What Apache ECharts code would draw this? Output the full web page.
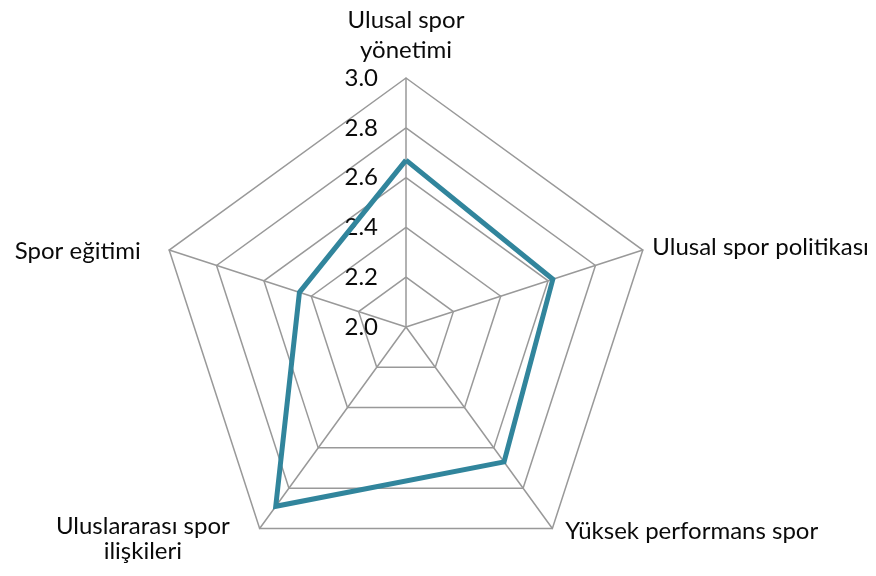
<!DOCTYPE html>
<html>
<head>
<meta charset="utf-8">
<script src="https://cdn.jsdelivr.net/npm/echarts@6/dist/echarts.min.js"></script>
<style>html,body{margin:0;padding:0;background:#fff;}#c{width:876px;height:576px;}</style>
</head>
<body>
<div id="c"></div>
<script>
// Indicators in ECharts' drawing order (counter-clockwise from the top)
const indicatorNames = ['Ulusal spor yönetimi', 'Spor eğitimi', 'Uluslararası spor ilişkileri', 'Yüksek performans spor', 'Ulusal spor politikası'];
const values = [2.67, 2.45, 2.89, 2.67, 2.62];
const axisMin = 2.0;
const axisMax = 3.0;
const tickStep = 0.2;

const nameText = {
  'Ulusal spor yönetimi': '{top|Ulusal spor}\n{top|yönetimi}',
  'Spor eğitimi': '{left|Spor eğitimi}',
  'Uluslararası spor ilişkileri': '{bl1|Uluslararası spor}\n{bl2|ilişkileri}',
  'Yüksek performans spor': '{br|Yüksek performans spor}',
  'Ulusal spor politikası': '{right|Ulusal spor politikası}'
};

const FONT = 'Lato';
const NAME_SIZE = 24;
const base = { fontFamily: FONT, fontSize: NAME_SIZE, color: '#0a0a0a', lineHeight: 30, align: 'center' };

const chart = echarts.init(document.getElementById('c'), null, { renderer: 'canvas' });
chart.setOption({
  backgroundColor: '#fff',
  animation: false,
  radar: {
    center: [406, 327],
    radius: 249,
    startAngle: 90,
    shape: 'polygon',
    splitNumber: Math.round((axisMax - axisMin) / tickStep),
    nameGap: 10,
    indicator: indicatorNames.map((n, i) => {
      const ind = { name: n, min: axisMin, max: axisMax };
      if (i === 0) {
        ind.axisLabel = {
          show: true,
          fontFamily: FONT,
          fontSize: 24,
          color: '#0a0a0a',
          margin: 28,
          formatter: v => Number(v).toFixed(1)
        };
      }
      return ind;
    }),
    axisName: {
      formatter: n => nameText[n] || n,
      rich: {
        top: Object.assign({}, base, { padding: [0, 0, 4, 0] }),
        left: Object.assign({}, base, { padding: [8, 19, 0, 0] }),
        bl1: Object.assign({}, base, { padding: [10, 24, 0, 0] }),
        bl2: Object.assign({}, base, { padding: [0, 24, 0, 0] }),
        br: Object.assign({}, base, { padding: [0, 0, 10, 7] }),
        right: Object.assign({}, base, { padding: [0, 0, 0, 0] })
      }
    },
    axisLabel: { show: false },
    axisTick: { show: false },
    axisLine: { lineStyle: { color: '#999999', width: 1.5 } },
    splitLine: { lineStyle: { color: '#999999', width: 1.5 } },
    splitArea: { show: false }
  },
  series: [{
    type: 'radar',
    symbol: 'none',
    lineStyle: { color: '#31859c', width: 5, join: 'miter' },
    data: [{ value: values }]
  }]
});
</script>
</body>
</html>
